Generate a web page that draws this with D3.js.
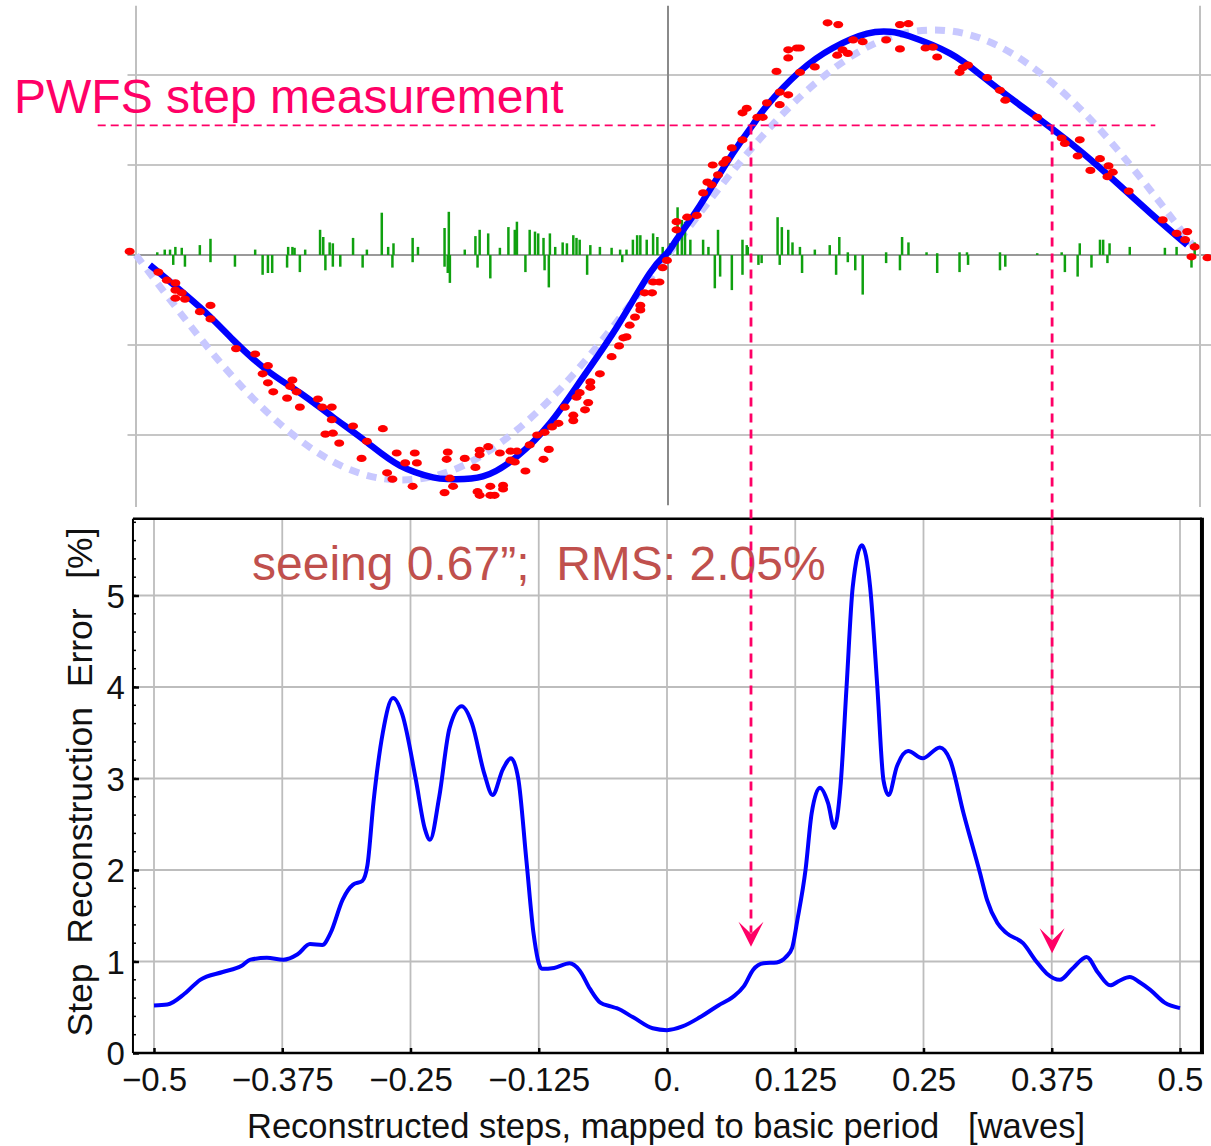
<!DOCTYPE html>
<html>
<head>
<meta charset="utf-8">
<script src="https://cdn.jsdelivr.net/npm/d3@7"></script>
<style>
  body { margin: 0; background: #fff; }
  svg { display: block; }
  text { font-family: "Liberation Sans", Arial, sans-serif; }
</style>
</head>
<body>
<div id="chart"></div>
<script>
// ---- top panel: PWFS phase signal (waves vs. arbitrary signal units) ----
var fitX = [-0.487, -0.44, -0.409, -0.377, -0.346, -0.315, -0.283, -0.252, -0.221, -0.205, -0.174, -0.142,
  -0.111, -0.08, -0.048, -0.017, -0.001, 0.008, 0.03, 0.061, 0.08, 0.093, 0.124, 0.155, 0.187, 0.209,
  0.227, 0.265, 0.296, 0.328, 0.359, 0.39, 0.422, 0.453, 0.488];
var fitY = [-0.11, -0.58, -0.94, -1.28, -1.53, -1.8, -2.08, -2.34, -2.47, -2.49, -2.46, -2.24,
  -1.87, -1.36, -0.8, -0.2, 0.02, 0.17, 0.55, 1.13, 1.45, 1.66, 2.04, 2.3, 2.46, 2.48,
  2.43, 2.24, 1.98, 1.69, 1.42, 1.13, 0.8, 0.47, 0.11];

// ideal (reference) response, dashed
var refX = [-0.5, -0.45, -0.4, -0.35, -0.3, -0.25, -0.2, -0.15, -0.1, -0.05, 0, 0.05, 0.1, 0.15, 0.2, 0.25, 0.3, 0.35, 0.4, 0.45, 0.5];
var refY = [0, -0.77, -1.47, -2.02, -2.38, -2.5, -2.38, -2.02, -1.47, -0.77, 0, 0.77, 1.47, 2.02, 2.38, 2.5, 2.38, 2.02, 1.47, 0.77, 0];

// measured steps (red dots)
var dotX = [-0.506, -0.479, -0.471, -0.463, -0.463, -0.457, -0.463, -0.454, -0.44, -0.43, -0.43, -0.406, -0.388,
  -0.376, -0.381, -0.376, -0.371, -0.358, -0.355, -0.353, -0.349, -0.346, -0.329, -0.325, -0.316, -0.316,
  -0.322, -0.315, -0.309, -0.296, -0.283, -0.288, -0.268, -0.264, -0.259, -0.255,
  -0.247, -0.238, -0.236, -0.24, -0.207, -0.208, -0.205, -0.202, -0.21, -0.191, -0.181, -0.177, -0.169,
  -0.177, -0.158, -0.148, -0.142, -0.148, -0.144, -0.179, -0.177, -0.167, -0.167, -0.163, -0.155, -0.155,
  -0.134, -0.117, -0.112, -0.13, -0.123, -0.116, -0.109, -0.103, -0.097, -0.089, -0.089, -0.086, -0.083,
  -0.078, -0.075, -0.073, -0.073, -0.064, -0.053, -0.046, -0.042, -0.039, -0.036, -0.031, -0.026, -0.026,
  -0.022, -0.015, -0.014, -0.008, -0.005, -0.001,
  0.008, 0.018, 0.027, 0.008, 0.033, 0.037, 0.041, 0.042, 0.047, 0.052, 0.055, 0.06, 0.07, 0.07, 0.074,
  0.084, 0.089, 0.093, 0.102, 0.105, 0.105, 0.113, 0.113, 0.113, 0.121,
  0.124, 0.124, 0.138, 0.15, 0.16, 0.159, 0.164, 0.169, 0.174, 0.183, 0.205, 0.218, 0.226, 0.218, 0.242,
  0.249, 0.253, 0.274, 0.277, 0.282, 0.3, 0.312, 0.317, 0.347, 0.37, 0.373, 0.387, 0.385, 0.406, 0.414,
  0.418, 0.397, 0.413, 0.433, 0.465, 0.478, 0.488, 0.486, 0.495, 0.492, 0.507];
var dotY = [0.04, -0.19, -0.28, -0.31, -0.39, -0.42, -0.48, -0.49, -0.63, -0.56, -0.71, -1.04, -1.1,
  -1.23, -1.32, -1.42, -1.52, -1.59, -1.46, -1.39, -1.52, -1.69, -1.6, -1.69, -1.69, -1.83,
  -1.99, -1.98, -2.09, -1.9, -2.07, -2.26, -1.93, -2.42, -2.49, -2.2,
  -2.31, -2.2, -2.31, -2.57, -2.19, -2.27, -2.48, -2.57, -2.64, -2.26, -2.36, -2.17, -2.13,
  -2.22, -2.2, -2.18, -2.18, -2.28, -2.3, -2.63, -2.67, -2.57, -2.67, -2.67, -2.56, -2.6,
  -2.4, -2.27, -2.16, -2.11, -2.0, -1.97, -1.91, -1.87, -1.69, -1.78, -1.84, -1.58, -1.53,
  -1.72, -1.64, -1.47, -1.41, -1.32, -1.13, -1.01, -0.92, -0.91, -0.78, -0.69, -0.61, -0.56,
  -0.42, -0.42, -0.3, -0.3, -0.14, -0.06,
  0.37, 0.42, 0.44, 0.28, 0.69, 0.81, 0.78, 1.0, 0.89, 1.02, 1.06, 1.19, 1.28, 1.58, 1.63,
  1.53, 1.53, 1.69, 2.04, 1.81, 1.67, 1.78, 2.19, 2.28, 2.3,
  2.03, 2.3, 2.09, 2.58, 2.56, 2.22, 2.28, 2.24, 2.39, 2.37, 2.39, 2.56, 2.57, 2.29, 2.3,
  2.31, 2.2, 2.03, 2.08, 2.11, 1.97, 1.83, 1.72, 1.53, 1.3, 1.24, 1.28, 1.1, 1.07, 0.99,
  0.92, 0.94, 0.87, 0.71, 0.39, 0.24, 0.26, 0.17, 0.09, -0.02, -0.03];

// residuals (green bars)
var resX = [-0.48, -0.473, -0.468, -0.465, -0.463, -0.457, -0.454, -0.44, -0.43, -0.43, -0.407, -0.388, -0.381,
  -0.376, -0.372, -0.357, -0.353, -0.358, -0.351, -0.346, -0.341, -0.327, -0.324, -0.322, -0.318, -0.315,
  -0.315, -0.308, -0.296, -0.287, -0.283, -0.269, -0.263, -0.259, -0.258, -0.24, -0.24, -0.235, -0.21,
  -0.21, -0.206, -0.207, -0.205, -0.191, -0.181, -0.179, -0.177, -0.169, -0.167, -0.158, -0.15, -0.144,
  -0.142, -0.134, -0.13, -0.125, -0.122, -0.117, -0.116, -0.112, -0.111, -0.106, -0.099, -0.095, -0.089,
  -0.086, -0.083, -0.076, -0.073, -0.064, -0.053, -0.045, -0.043, -0.039, -0.033, -0.029, -0.026, -0.02,
  -0.014, -0.01, -0.005, 0.002, 0.009, 0.013, 0.016, 0.021, 0.033, 0.038, 0.044, 0.047, 0.049, 0.06,
  0.07, 0.07, 0.074, 0.075, 0.085, 0.088, 0.103, 0.105, 0.107, 0.113, 0.117, 0.124, 0.126, 0.138, 0.152,
  0.158, 0.161, 0.169, 0.169, 0.176, 0.183, 0.205, 0.205, 0.218, 0.22, 0.226, 0.243, 0.253, 0.253, 0.274,
  0.274, 0.281, 0.282, 0.312, 0.312, 0.317, 0.347, 0.37, 0.373, 0.385, 0.387, 0.398, 0.406, 0.409, 0.413,
  0.415, 0.434, 0.467, 0.478, 0.492, 0.495];
var resY = [0.03, 0.06, 0.06, -0.11, 0.09, 0.08, -0.13, 0.11, 0.18, -0.08, -0.13, 0.06, -0.22,
  -0.2, -0.2, 0.09, 0.09, -0.14, 0.08, -0.19, 0.06, 0.28, 0.2, -0.17, 0.14, 0.13,
  -0.13, -0.13, 0.19, -0.14, 0.06, 0.47, 0.09, -0.14, 0.13, 0.19, -0.08, 0.09, 0.3,
  -0.13, 0.48, -0.2, -0.31, 0.06, 0.21, -0.14, 0.28, 0.24, -0.26, 0.08, 0.31, 0.28,
  0.37, -0.19, 0.28, 0.26, 0.24, 0.19, -0.17, -0.36, 0.24, 0.09, 0.14, 0.13, 0.22,
  0.19, 0.17, -0.22, 0.11, 0.09, 0.08, 0.06, -0.08, 0.06, 0.17, 0.22, 0.22, 0.17,
  0.24, 0.2, 0.09, 0.13, 0.53, 0.39, 0.37, 0.17, 0.17, 0.09, -0.37, 0.28, -0.24, -0.39,
  0.17, -0.22, 0.11, 0.09, -0.11, -0.09, 0.42, -0.11, 0.31, 0.28, 0.14, 0.09, -0.2, 0.06, 0.11,
  -0.22, 0.2, 0.03, -0.08, -0.17, -0.44, 0.03, -0.09, -0.17, 0.2, 0.14, 0.03, 0.02, -0.2, 0.03,
  -0.19, 0.03, -0.11, 0.03, -0.17, -0.13, 0.02, 0.03, -0.19, -0.24, 0.13, -0.14, 0.17, 0.17, -0.09,
  0.13, 0.09, 0.08, 0.09, -0.14, 0.14];

// ---- bottom panel: step reconstruction error [%] ----
var errX = [-0.5, -0.487, -0.47, -0.455, -0.433, -0.415, -0.406, -0.39, -0.374, -0.36, -0.348, -0.336, -0.328,
  -0.316, -0.306, -0.297, -0.292, -0.286, -0.277, -0.267, -0.258, -0.245, -0.236, -0.231, -0.222, -0.212,
  -0.2, -0.19, -0.178, -0.17, -0.16, -0.152, -0.145, -0.137, -0.13, -0.122, -0.11, -0.095, -0.085, -0.075,
  -0.065, -0.055, -0.049, -0.033, -0.014, 0, 0.015, 0.032, 0.05, 0.064, 0.075, 0.084, 0.094, 0.107, 0.116,
  0.122, 0.127, 0.135, 0.141, 0.149, 0.157, 0.163, 0.169, 0.175, 0.181, 0.19, 0.198, 0.205, 0.211, 0.216,
  0.224, 0.235, 0.249, 0.266, 0.276, 0.289, 0.305, 0.312, 0.322, 0.331, 0.347, 0.36, 0.37, 0.383, 0.395,
  0.409, 0.42, 0.432, 0.441, 0.451, 0.461, 0.471, 0.485, 0.5];
var errY = [0.52, 0.53, 0.65, 0.8, 0.885, 0.95, 1.02, 1.04, 1.02, 1.08, 1.19, 1.18, 1.31,
  1.68, 1.84, 1.88, 2.05, 2.75, 3.5, 3.88, 3.7, 3.0, 2.45, 2.33, 2.8, 3.55,
  3.79, 3.6, 3.05, 2.82, 3.1, 3.22, 3.0, 2.1, 1.3, 0.92, 0.93, 0.98, 0.9, 0.7,
  0.55, 0.51, 0.49, 0.39, 0.27, 0.25, 0.29, 0.39, 0.52, 0.61, 0.73, 0.91, 0.98, 0.99, 1.05,
  1.15, 1.45, 2.0, 2.62, 2.9, 2.73, 2.46, 2.9, 4.0, 5.09, 5.55, 5.09, 4.0, 2.98, 2.82,
  3.13, 3.3, 3.22, 3.34, 3.2, 2.62, 1.97, 1.67, 1.42, 1.31, 1.2, 1.0, 0.87, 0.8, 0.92,
  1.05, 0.88, 0.74, 0.79, 0.83, 0.77, 0.69, 0.55, 0.49];

var xTicks = [-0.5, -0.375, -0.25, -0.125, 0, 0.125, 0.25, 0.375, 0.5];
var xTickLabels = ["\u22120.5", "\u22120.375", "\u22120.25", "\u22120.125", "0.", "0.125", "0.25", "0.375", "0.5"];
var yTicks = [0, 1, 2, 3, 4, 5];
var topGrid = [-2, -1, 0, 1, 2];

// annotation: measured step level and its two solutions
var measureLevel = 1.44;
var crossX = [0.078, 0.361];
var arrowErr = [1.16, 1.09];

var svgWidth = 1211;
var svgHeight = 1146;

var svg = d3.select("#chart")
  .append("svg")
  .attr("width", svgWidth)
  .attr("height", svgHeight);

svg.append("rect").attr("width", svgWidth).attr("height", svgHeight).attr("fill", "#fff");

//scales
var topX = d3.scaleLinear().domain([-0.5, 0.5]).range([136, 1200]);
var topY = d3.scaleLinear().domain([-2, 2]).range([435, 75]);
var botX = d3.scaleLinear().domain([-0.5, 0.5]).range([154, 1180]);
var botY = d3.scaleLinear().domain([0, 5]).range([1053, 595.5]);

// ===== top panel =====
var topG = svg.append("g");

topG.selectAll(".hgrid")
  .data(topGrid)
  .enter()
  .append("line")
  .attr("x1", topX(-0.508))
  .attr("x2", svgWidth)
  .attr("y1", d => topY(d))
  .attr("y2", d => topY(d))
  .attr("stroke", d => d === 0 ? "#9a9a9a" : "#c6c6c6")
  .attr("stroke-width", 2);

topG.selectAll(".vgrid")
  .data([-0.5, 0, 0.5])
  .enter()
  .append("line")
  .attr("x1", d => topX(d))
  .attr("x2", d => topX(d))
  .attr("y1", topY(2.77))
  .attr("y2", d => d === 0 ? topY(-2.78) : topY(-2.8))
  .attr("stroke", d => d === 0 ? "#8a8a8a" : "#c0c0c0")
  .attr("stroke-width", 2);

var lineTop = d3.line()
  .x(d => topX(d[0]))
  .y(d => topY(d[1]))
  .curve(d3.curveNatural);

topG.append("path")
  .attr("d", lineTop(d3.zip(refX, refY)))
  .attr("fill", "none")
  .attr("stroke", "#c8c8ff")
  .attr("stroke-width", 7)
  .attr("stroke-dasharray", "10,8");

topG.selectAll(".res")
  .data(d3.zip(resX, resY))
  .enter()
  .append("line")
  .attr("x1", d => topX(d[0]))
  .attr("x2", d => topX(d[0]))
  .attr("y1", topY(0))
  .attr("y2", d => topY(d[1]))
  .attr("stroke", "#0fa00f")
  .attr("stroke-width", 2.5);

topG.append("path")
  .attr("d", lineTop(d3.zip(fitX, fitY)))
  .attr("fill", "none")
  .attr("stroke", "#0000ff")
  .attr("stroke-width", 6.5);

topG.selectAll(".dot")
  .data(d3.zip(dotX, dotY))
  .enter()
  .append("ellipse")
  .attr("cx", d => topX(d[0]))
  .attr("cy", d => topY(d[1]))
  .attr("rx", 5)
  .attr("ry", 3.6)
  .attr("fill", "#ff0000");

// ===== bottom panel =====
var bot = svg.append("g");

bot.append("rect")
  .attr("x", botX(-0.5205))
  .attr("y", botY(5.84))
  .attr("width", botX(0.5214) - botX(-0.5205))
  .attr("height", botY(0) - botY(5.84))
  .attr("fill", "#fff");

bot.selectAll(".xgrid")
  .data(xTicks)
  .enter()
  .append("line")
  .attr("x1", d => botX(d))
  .attr("x2", d => botX(d))
  .attr("y1", botY(5.84))
  .attr("y2", botY(0))
  .attr("stroke", "#bdbdbd")
  .attr("stroke-width", 1.8);

bot.selectAll(".ygrid")
  .data(yTicks.slice(1))
  .enter()
  .append("line")
  .attr("x1", botX(-0.5205))
  .attr("x2", botX(0.5214))
  .attr("y1", d => botY(d))
  .attr("y2", d => botY(d))
  .attr("stroke", "#bdbdbd")
  .attr("stroke-width", 1.8);

// minor ticks on the left frame
bot.selectAll(".minor")
  .data(d3.range(0, 5.81, 0.2))
  .enter()
  .append("line")
  .attr("x1", botX(-0.5205))
  .attr("x2", botX(-0.5205) + 3)
  .attr("y1", d => botY(d))
  .attr("y2", d => botY(d))
  .attr("stroke", "#000")
  .attr("stroke-width", 1.5);

//Create and Append Axis
var bottomAxis = d3.axisBottom(botX)
  .tickValues(xTicks)
  .tickFormat((d, i) => xTickLabels[i])
  .tickSize(-5)
  .tickPadding(14);

var leftAxis = d3.axisLeft(botY)
  .tickValues(yTicks)
  .tickFormat(d3.format("d"))
  .tickSize(-6)
  .tickPadding(8);

var gx = bot.append("g")
  .attr("transform", `translate(0, ${botY(0)})`)
  .call(bottomAxis);

var gy = bot.append("g")
  .attr("transform", `translate(${botX(-0.5205)}, 0)`)
  .call(leftAxis);

[gx, gy].forEach(function(g) {
  g.select(".domain").remove();
  g.selectAll(".tick line").attr("stroke", "#000").attr("stroke-width", 2.5);
  g.selectAll(".tick text")
    .attr("fill", "#111")
    .style("font-size", "33px")
    .style("font-family", "'Liberation Sans', Arial, sans-serif");
});

gx.selectAll(".tick text").attr("dy", "0.72em");
gy.selectAll(".tick text").attr("dy", "0.36em");

// frame
bot.append("line")
  .attr("x1", botX(-0.5205)).attr("x2", botX(-0.5205))
  .attr("y1", botY(5.84)).attr("y2", botY(0))
  .attr("stroke", "#000").attr("stroke-width", 2);
bot.append("line")
  .attr("x1", botX(-0.5205)).attr("x2", botX(0.5214) + 2)
  .attr("y1", botY(0)).attr("y2", botY(0))
  .attr("stroke", "#000").attr("stroke-width", 2.5);
bot.append("line")
  .attr("x1", botX(-0.5205)).attr("x2", botX(0.5214))
  .attr("y1", botY(5.84)).attr("y2", botY(5.84))
  .attr("stroke", "#000").attr("stroke-width", 2.5);
bot.append("line")
  .attr("x1", botX(0.5214)).attr("x2", botX(0.5214))
  .attr("y1", botY(5.84) - 1).attr("y2", botY(0) + 1)
  .attr("stroke", "#000").attr("stroke-width", 4);

var lineBot = d3.line()
  .x(d => botX(d[0]))
  .y(d => botY(d[1]))
  .curve(d3.curveMonotoneX);

bot.append("path")
  .attr("d", lineBot(d3.zip(errX, errY)))
  .attr("fill", "none")
  .attr("stroke", "#0000ff")
  .attr("stroke-width", 4)
  .attr("stroke-linejoin", "round");

// axis labels
bot.append("text")
  .attr("transform", "translate(92, 782) rotate(-90)")
  .attr("text-anchor", "middle")
  .style("font-size", "35.5px")
  .style("white-space", "pre")
  .attr("fill", "#111")
  .text("Step  Reconstruction  Error   [%]");

bot.append("text")
  .attr("x", 666)
  .attr("y", 1138)
  .attr("text-anchor", "middle")
  .style("font-size", "34.5px")
  .style("white-space", "pre")
  .attr("fill", "#111")
  .text("Reconstructed steps, mapped to basic period   [waves]");

bot.append("text")
  .attr("x", 252)
  .attr("y", 580)
  .style("font-size", "48px")
  .style("white-space", "pre")
  .attr("fill", "#c0504d")
  .text("seeing 0.67\u201d;  RMS: 2.05%");

// ===== annotation =====
var pink = "#ff0066";
var ann = svg.append("g");

ann.append("text")
  .attr("x", 14)
  .attr("y", 113)
  .style("font-size", "48px")
  .attr("fill", pink)
  .text("PWFS step measurement");

ann.append("line")
  .attr("x1", topX(-0.536))
  .attr("x2", topX(0.458))
  .attr("y1", topY(measureLevel))
  .attr("y2", topY(measureLevel))
  .attr("stroke", pink)
  .attr("stroke-width", 1.8)
  .attr("stroke-dasharray", "8,5");

crossX.forEach(function(cx, i) {
  var px = topX(cx);
  var tip = botY(arrowErr[i]);
  ann.append("line")
    .attr("x1", px).attr("x2", px)
    .attr("y1", topY(measureLevel))
    .attr("y2", tip - 14)
    .attr("stroke", pink)
    .attr("stroke-width", 2.8)
    .attr("stroke-dasharray", "9,7");
  ann.append("path")
    .attr("transform", `translate(${px}, ${tip})`)
    .attr("d", "M0,0 L-12.5,-25 L0,-13 L12.5,-25 Z")
    .attr("fill", pink);
});
</script>
</body>
</html>
